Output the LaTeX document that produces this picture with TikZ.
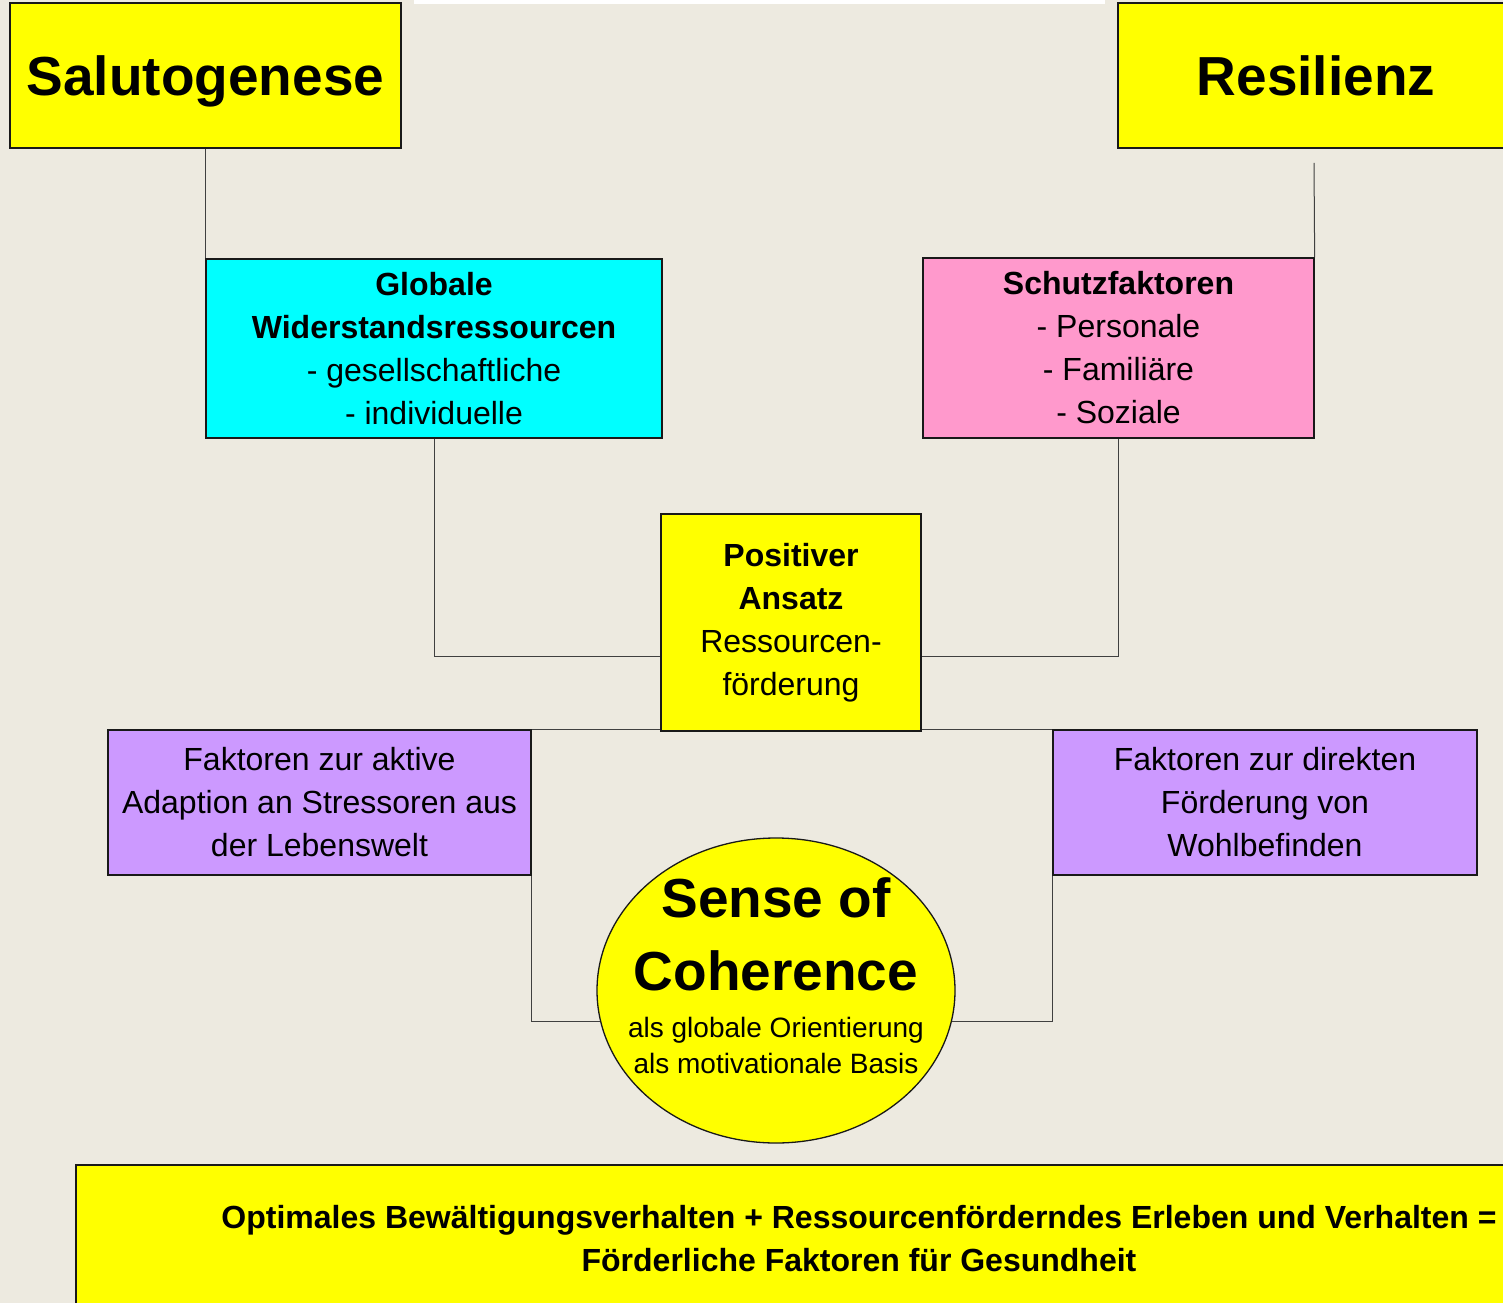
\documentclass[tikz,border=0pt]{standalone}
\usepackage{fontspec}
\setmainfont{Liberation Sans}
\usepackage{tikz}
\usetikzlibrary{shapes.geometric}
\definecolor{paper}{HTML}{EDEAE0}
\definecolor{sunyellow}{HTML}{FFFF00}
\definecolor{resourcecyan}{HTML}{00FFFF}
\definecolor{protectpink}{HTML}{FF99CC}
\definecolor{factorlilac}{HTML}{CC99FF}
\newcommand\titlefont{\fontsize{55bp}{73bp}\selectfont\bfseries}
\newcommand\boxfont{\fontsize{32bp}{43bp}\selectfont}
\newcommand\socsmall{\fontsize{28bp}{36bp}\selectfont}
\tikzstyle{box}=[draw=black!90,line width=1.3bp,inner sep=0pt,align=center,font=\boxfont]
\tikzstyle{title box}=[box,fill=sunyellow,minimum height=145bp,font=\titlefont,text height=40bp,text depth=0pt]
\tikzstyle{factor box}=[box,fill=factorlilac,minimum height=145bp]
\tikzstyle{edge}=[draw,line width=1bp,black!75]

\begin{document}
\begin{tikzpicture}[x=1bp,y=-1bp]
    \useasboundingbox (0,0) rectangle (1503,1303);
    \clip (0,0) rectangle (1503,1303);
    \fill[paper] (0,0) rectangle (1503,1303);
    \fill[white] (414,0) rectangle (1105,4);

    % the two headings
    \node[title box,minimum width=391bp] (saluto) at (205.5,75.5) {Salutogenese};
    \node[title box,minimum width=396bp] (resil) at (1316,75.5) {Resilienz};
    \coordinate (resend) at (1314,163);

    % resources and protective factors
    \node[box,fill=resourcecyan,minimum width=456bp,minimum height=179bp] (globale) at (434,348.5)
        {\textbf{Globale}\\\textbf{Widerstandsressourcen}\\- gesellschaftliche\\- individuelle};
    \node[box,fill=protectpink,minimum width=391bp,minimum height=180bp] (schutz) at (1118.5,348)
        {\textbf{Schutzfaktoren}\\- Personale\\- Familiäre\\- Soziale};

    \node[box,fill=sunyellow,minimum width=260bp,minimum height=217bp] (positiv) at (791,622.5)
        {\textbf{Positiver}\\\textbf{Ansatz}\\Ressourcen-\\förderung};
    \coordinate (joinlevel) at (0,656);

    % factors left and right
    \node[factor box,minimum width=423bp] (aktiv) at (319.5,802.5)
        {Faktoren zur aktive\\Adaption an Stressoren aus\\der Lebenswelt};
    \node[factor box,minimum width=424bp] (direkt) at (1265,802.5)
        {Faktoren zur direkten\\Förderung von\\Wohlbefinden};

    % sense of coherence
    \node[ellipse,draw=black!90,line width=1.3bp,fill=sunyellow,minimum width=358bp,minimum height=305bp,inner sep=0pt] (soc) at (776,990.5) {};
    \node[align=center,font=\titlefont,inner sep=0pt] (soctitle) at (776,934) {Sense of\\Coherence};
    \node[align=center,font=\socsmall,inner sep=0pt] (socsub) at (776,1045) {als globale Orientierung\\als motivationale Basis};

    % result
    \node[box,fill=sunyellow,minimum width=1566bp,minimum height=146bp,font=\boxfont\bfseries,text depth=0pt] (result) at (859,1238)
        {Optimales Bewältigungsverhalten + Ressourcenförderndes Erleben und Verhalten =\\Förderliche Faktoren für Gesundheit};

    % connectors
    \path[edge] (saluto.south) -- (saluto.south |- globale.north);
    \path[edge] (resend) -- (schutz.north east);
    \path[edge] (globale.south) |- (positiv.west |- joinlevel);
    \path[edge] (schutz.south) |- (positiv.east |- joinlevel);
    \foreach \source/\dest in {aktiv.north east/positiv.west, direkt.north west/positiv.east}
        \path[edge] (\source) -- (\source -| \dest);
    \path[edge] (aktiv.south east) |- (soc.190);
    \path[edge] (direkt.south west) |- (soc.-10);
\end{tikzpicture}
\end{document}
